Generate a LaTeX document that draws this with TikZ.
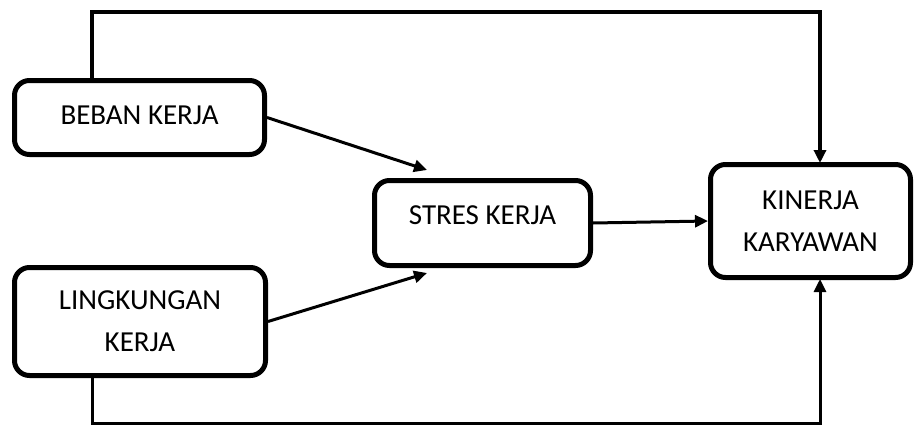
\documentclass[tikz,border=0pt]{standalone}
\usepackage{fontspec}
\setmainfont{Carlito}
\usetikzlibrary{arrows.meta,calc}
\tikzset{
  box/.style={draw=black, line width=5pt, rounded corners=15pt, fill=white,
    inner sep=0pt, align=center, font=\fontsize{29pt}{42pt}\selectfont},
  arr/.style={line width=3pt, -{Triangle[length=13pt,width=12pt]}},
  topline/.style={line width=4.5pt, -{Triangle[length=13pt,width=12pt]}},
  botline/.style={line width=3pt, -{Triangle[length=13pt,width=12pt]}}
}
\begin{document}
\begin{tikzpicture}[x=1pt,y=-1pt]
\useasboundingbox[fill=white] (0,0) rectangle (914,426);
\node[box, minimum width=250pt, minimum height=74pt, text height=20pt, text depth=6.4pt] (beban) at (139.5,117.5) {BEBAN KERJA};
\node[box, minimum width=251pt, minimum height=108pt] (ling) at (140,321.5) {LINGKUNGAN\\KERJA};
\node[box, minimum width=216pt, minimum height=85pt, text height=22pt, text depth=19.4pt] (stres) at (482.5,223) {STRES KERJA};
\node[box, minimum width=200pt, minimum height=113pt] (kin) at (810.5,221) {KINERJA\\KARYAWAN};
\coordinate (a1) at (427,170);
\coordinate (a2) at (427,273);
\coordinate (topL) at (92,12);
\coordinate (topR) at (820,12);
\coordinate (botL) at (92,423);
\coordinate (botR) at (820,423);
\draw[arr] (beban.east) -- (a1);
\draw[arr] (ling.east) -- (a2);
\draw[arr] (stres.east) -- (kin.west);
\draw[topline] ([yshift=-3pt]beban.north -| topL) -- (topL) -- (topR) -- ([yshift=-1pt]kin.north -| topR);
\draw[botline] (ling.south -| botL) -- (botL) -- (botR) -- ([yshift=1pt]kin.south -| botR);
\end{tikzpicture}
\end{document}
